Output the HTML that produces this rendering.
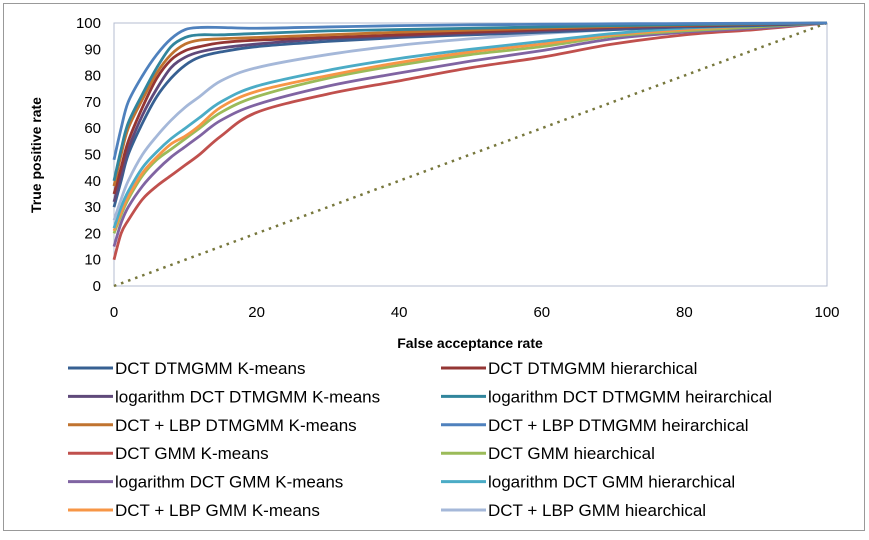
<!DOCTYPE html>
<html><head><meta charset="utf-8"><style>
body{margin:0;background:#fff;font-family:"Liberation Sans",sans-serif;}
svg text{font-family:"Liberation Sans",sans-serif;}
</style></head><body>
<svg id="chart" width="869" height="535" xmlns="http://www.w3.org/2000/svg">
<rect x="3.5" y="3.5" width="861" height="527" fill="#fff" stroke="#999"/>
<g id="grid"></g><g id="series"></g><g id="legend"></g>
<text x="470" y="348" text-anchor="middle" font-size="14" font-weight="bold">False acceptance rate</text>
<text transform="translate(41,155) rotate(-90)" text-anchor="middle" font-size="14" font-weight="bold">True positive rate</text>
</svg>
<script>
const xs=[0,1,2,4,6,8,10,12,15,20,30,40,50,60,70,80,90,100];
const names=["DCT DTMGMM K-means","DCT DTMGMM hierarchical","logarithm DCT DTMGMM K-means","logarithm DCT DTMGMM heirarchical","DCT + LBP DTMGMM K-means","DCT + LBP DTMGMM heirarchical","DCT GMM K-means","DCT GMM hiearchical","logarithm DCT GMM K-means","logarithm DCT GMM  hierarchical","DCT + LBP GMM K-means","DCT + LBP GMM hiearchical"];
const colors=["#376092","#943634","#5f497a","#31859c","#c0732f","#4f81bd","#c0504d","#9bbb59","#8064a2","#4bacc6","#f79646","#a5b8d9"];
const s1=[30,40,50,62,72,79,84,87,89,91,93,94.5,95.5,96.5,97.5,98.5,99,100];
const s2=[35,45,55,68,79,86,89.5,91,92.5,93.5,94.5,95.5,96.5,97.5,98.5,99,99.5,100];
const s3=[32,42,52,65,75,83,87,89,90.5,92,94,95,96,97,98,98.8,99.4,100];
const s4=[40,52,62,73,83,91,94.5,95.5,95.5,96,97,97.5,98,98.5,99,99.4,99.7,100];
const s5=[38,50,60,71,81,88,92,93.5,94,94.5,95.5,96.5,97.3,98,98.7,99.2,99.6,100];
const s6=[48,60,70,80,88,94,97.5,98.3,98.3,98,98.5,99,99.3,99.5,99.7,99.8,99.9,100];
const s7=[10,20,25,33,38,42,46,50,57,66,73,78,83,87,92,95.5,97.5,100];
const s8=[20,27,33,42,48,52,56,60,66,72,79,84,88,91,95,97,98.5,100];
const s9=[15,24,30,38,44,49,53,57,63,69,76,81,85.5,89.5,94,96.5,98,100];
const s10=[22,30,36,45,51,56,60,64,70,76,82,86.5,90,93,96,98,99,100];
const s11=[21,28,34,43,49,54,57,61,68,74,80,85,89,92,95.5,97.5,99,100];
const s12=[25,33,40,50,57,63,68,72,78,83,88,91.5,94,96,97.5,98.5,99.5,100];
const series=[s1,s2,s3,s4,s5,s6,s7,s8,s9,s10,s11,s12];
const yTicks=[0,10,20,30,40,50,60,70,80,90,100];
const xTicks=[0,20,40,60,80,100];
const X=v=>114+v*7.13, Y=v=>286-v*2.63;
const NS="http://www.w3.org/2000/svg";
const svg=document.getElementById('chart');
function mk(t,a,p){const e=document.createElementNS(NS,t);for(const k in a)e.setAttribute(k,a[k]);p.appendChild(e);return e;}
const g=document.getElementById('grid');
const pa=mk('rect',{x:X(0),y:Y(100),width:X(100)-X(0),height:Y(0)-Y(100),fill:'none',stroke:'#b4bcd0'},g);


yTicks.forEach(v=>{const t=mk('text',{x:101,y:Y(v)+5,'text-anchor':'end','font-size':15},g);t.textContent=v;

});
xTicks.forEach(v=>{const t=mk('text',{x:X(v),y:317,'text-anchor':'middle','font-size':15},g);t.textContent=v;

});
const diag=mk('line',{x1:X(0),y1:Y(0),x2:X(100),y2:Y(100),stroke:'#77773c','stroke-width':2.5,'stroke-dasharray':'2.5 5'},g);


function path(ys){const p=xs.map((x,i)=>[X(x),Y(ys[i])]);let d='M'+p[0].join(',');
for(let i=0;i<p.length-1;i++){const p0=p[Math.max(0,i-1)],p1=p[i],p2=p[i+1],p3=p[Math.min(p.length-1,i+2)];
const c1=[p1[0]+(p2[0]-p0[0])/6,p1[1]+(p2[1]-p0[1])/6],c2=[p2[0]-(p3[0]-p1[0])/6,p2[1]-(p3[1]-p1[1])/6];
d+=' C'+c1.join(',')+' '+c2.join(',')+' '+p2.join(',');}return d;}
const sg=document.getElementById('series');
const order=[6,8,7,10,9,11,0,2,1,4,3,5];
order.forEach(i=>{const e=mk('path',{d:path(series[i]),fill:'none',stroke:colors[i],'stroke-width':2.8},sg);

});
const lg=document.getElementById('legend');
names.forEach((n,i)=>{const col=i%2,row=Math.floor(i/2);const lx=col?441:68,ly=368+row*28.4;
const le=mk('g',{},lg);


mk('line',{x1:lx,y1:ly,x2:lx+45,y2:ly,stroke:colors[i],'stroke-width':3},le);
const t=mk('text',{x:lx+47,y:ly+6,'font-size':17},le);t.textContent=n;});
</script>
</body></html>
